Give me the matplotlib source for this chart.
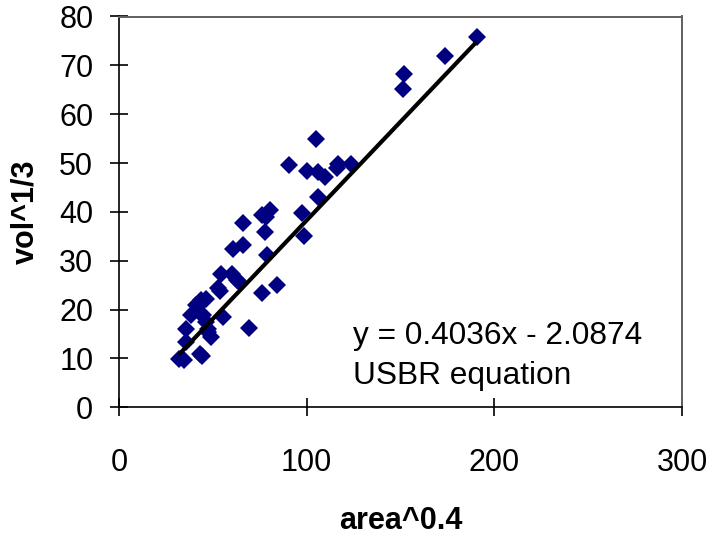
import matplotlib
matplotlib.use("Agg")
import matplotlib.pyplot as plt
import numpy as np

# Reservoir geometry: area^0.4 vs vol^(1/3)
area_pow = [31.8, 34.9, 42.9, 44.0, 35.8, 35.8, 38.5, 41.1, 43.8, 46.5,
            44.7, 46.5, 47.3, 49.1, 55.3, 69.2, 52.9, 53.8, 54.5, 60.0,
            62.7, 64.2, 76.0, 84.0, 60.9, 66.2, 78.7, 66.2, 76.0, 80.4,
            78.5, 77.8, 98.6, 97.3, 106.2, 90.7, 100.0, 106.2, 109.7, 116.8,
            115.9, 123.4, 105.0, 151.5, 151.8, 173.7, 190.6, 42.4, 43.6, 47.2]
vol_root = [9.8, 9.6, 11.0, 10.4, 13.4, 16.1, 18.8, 20.9, 21.9, 22.2,
            18.8, 17.5, 16.1, 14.4, 18.5, 16.2, 24.4, 23.8, 27.3, 27.2,
            26.1, 25.6, 23.3, 25.0, 32.5, 33.2, 31.2, 37.7, 39.4, 40.4,
            39.0, 35.9, 35.0, 39.8, 43.0, 49.6, 48.4, 48.2, 47.2, 49.9,
            48.9, 49.9, 54.9, 65.1, 68.2, 72.0, 75.9, 21.0, 19.2, 15.4]

# USBR fit
slope = 0.4036
intercept = -2.0874
fit_label = "y = 0.4036x - 2.0874"
fit_name = "USBR equation"

x_ticks = [0, 100, 200, 300]
y_ticks = [0, 10, 20, 30, 40, 50, 60, 70, 80]

plt.rcParams['font.family'] = ['Liberation Sans', 'DejaVu Sans']

fig = plt.figure(figsize=(7.09, 5.37), dpi=100)
ax = fig.add_axes([119 / 709, 1 - 407.3 / 537, 563 / 709, (407.3 - 16.5) / 537])

ax.plot(area_pow, vol_root, linestyle='none', marker='D', markersize=8.8,
        color='#000080', markeredgewidth=0, zorder=2)

xs = np.array([min(area_pow), max(area_pow)])
ax.plot(xs, slope * xs + intercept, color='black', linewidth=3.0,
        solid_capstyle='butt', zorder=3)

ax.set_xlim(0, 300)
ax.set_ylim(0, 80)
ax.set_xticks(x_ticks)
ax.set_yticks(y_ticks)

ax.tick_params(axis='both', direction='inout', length=13, width=1.2,
               labelsize=22, color='black')
ax.tick_params(axis='x', pad=22.5)
ax.tick_params(axis='y', pad=12)

for side in ('left', 'bottom'):
    ax.spines[side].set_color('black')
    ax.spines[side].set_linewidth(1.2)
for side in ('top', 'right'):
    ax.spines[side].set_color('#606060')
    ax.spines[side].set_linewidth(1.4)

ax.set_xlabel('area^0.4', fontsize=22, fontweight='bold')
ax.set_ylabel('vol^1/3', fontsize=22, fontweight='bold')
ax.xaxis.set_label_coords(0.5, -0.252)
ax.yaxis.set_label_coords(-0.14, 0.5)

ax.text(124.7, 12.96, fit_label, fontsize=22.8, va='baseline', ha='left')
ax.text(124.7, 4.77, fit_name, fontsize=22.8, va='baseline', ha='left')

fig.savefig('out.png', dpi=100)
